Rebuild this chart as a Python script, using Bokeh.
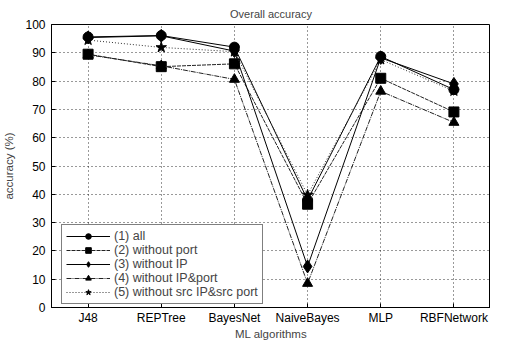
from bokeh.plotting import figure
from bokeh.models import Legend, LegendItem, FactorRange, Range1d, FixedTicker
from bokeh.embed import file_html
from bokeh.resources import INLINE

algorithms = ["J48", "REPTree", "BayesNet", "NaiveBayes", "MLP", "RBFNetwork"]
s_all = [95.6, 96.1, 92.0, 38.0, 88.7, 77.0]
s_no_port = [89.5, 85.1, 86.1, 36.5, 81.0, 69.1]
s_no_ip = [95.4, 96.0, 90.6, 14.5, 88.2, 79.0]
s_no_ip_port = [89.3, 85.4, 80.6, 8.5, 76.4, 65.4]
s_no_src = [94.5, 91.9, 90.4, 39.8, 87.6, 76.5]
labels = ["(1) all", "(2) without port", "(3) without IP", "(4) without IP&port",
          "(5) without src IP&src port"]
y_ticks = [0, 10, 20, 30, 40, 50, 60, 70, 80, 90, 100]

FONT = "Liberation Sans"

p = figure(frame_width=439, frame_height=283, x_range=FactorRange(*algorithms),
           y_range=Range1d(0, 100), output_backend="svg", toolbar_location=None,
           title="Overall accuracy", min_border_left=50, min_border_right=0,
           min_border_top=0, min_border_bottom=0)
p.title.align = "center"
p.title.text_font = FONT
p.title.text_font_size = "11px"
p.title.text_font_style = "normal"
p.title.offset = 0
p.title.standoff = 10

p.outline_line_color = "black"
p.outline_line_width = 1
p.background_fill_color = "white"
p.border_fill_color = "white"

for ax in (p.xaxis[0], p.yaxis[0]):
    ax.axis_line_color = "black"
    ax.major_tick_in = 4
    ax.major_tick_out = 0
    ax.minor_tick_in = 0
    ax.minor_tick_out = 0
    ax.major_label_text_font = FONT
    ax.major_label_text_font_size = "12px"
    ax.major_label_text_color = "black"
    ax.axis_label_text_font = FONT
    ax.axis_label_text_font_size = "11.5px"
    ax.axis_label_text_font_style = "normal"

p.xaxis.axis_label = "ML algorithms"
p.yaxis.axis_label = "accuracy (%)"
p.yaxis.ticker = FixedTicker(ticks=y_ticks)
p.xaxis.major_label_standoff = 3
p.xaxis.axis_label_standoff = 0
p.yaxis.major_label_standoff = 6
p.yaxis.axis_label_standoff = 7

for g in (p.xgrid[0], p.ygrid[0]):
    g.grid_line_color = "black"
    g.grid_line_dash = "1 3"
    g.grid_line_width = 1
    g.grid_line_alpha = 0.8

series = [s_all, s_no_port, s_no_ip, s_no_ip_port, s_no_src]
markers = ["circle", "square", "diamond", "triangle", "star"]
sizes = [10, 10, 13, 10, 11]
dashes = ["solid", "4 1", "solid", "5 1 1 1", "1 2"]
colors = ["black", "#222222", "black", "#222222", "#333333"]

items = []
for vals, m, sz, d, c, lab in zip(series, markers, sizes, dashes, colors, labels):
    r1 = p.line(algorithms, vals, line_color=c, line_width=1, line_dash=d)
    r2 = p.scatter(algorithms, vals, marker=m, size=sz, fill_color="black",
                   line_color="black")
    items.append(LegendItem(label=lab, renderers=[r1, r2]))

legend = Legend(items=items, location=(10, 3), margin=0, padding=4, spacing=0,
                glyph_width=44, glyph_height=14, label_height=14,
                label_standoff=4, label_text_font=FONT, label_text_font_size="12.5px",
                border_line_color="black", border_line_width=1,
                background_fill_alpha=1.0)
p.add_layout(legend, "center")

open("out.html", "w").write(file_html(p, INLINE))
